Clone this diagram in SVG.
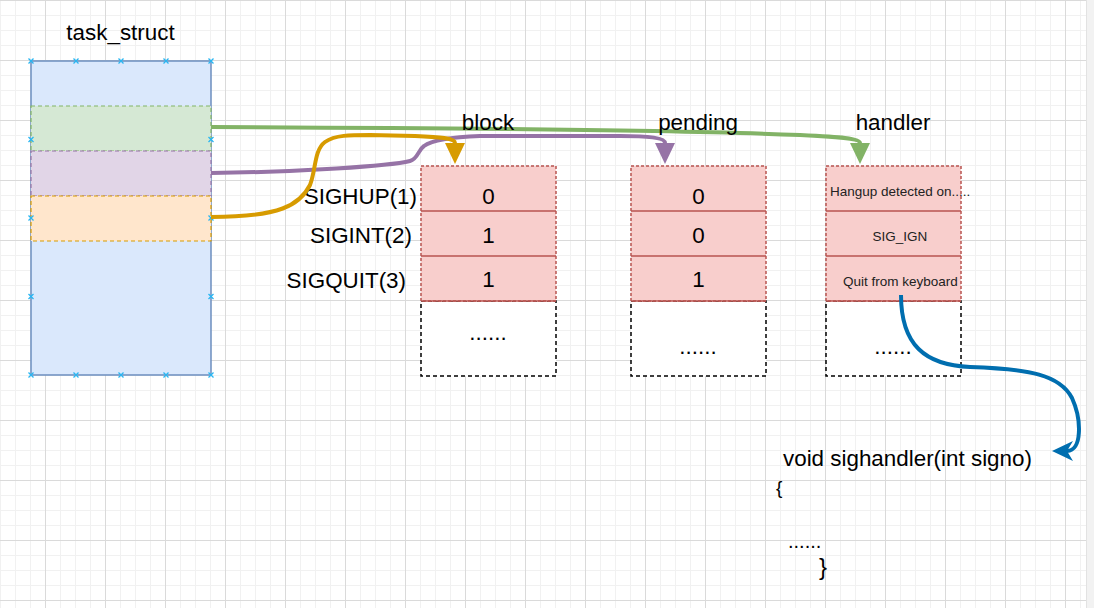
<svg xmlns="http://www.w3.org/2000/svg" xmlns:xlink="http://www.w3.org/1999/xlink" width="1094" height="608" viewBox="0 0 1094 608">
<style>
text{font-family:"Liberation Sans",Arial,sans-serif;fill:#000}
.big{font-size:22.4px}
.mid{text-anchor:middle}
.end{text-anchor:end}
.small{font-size:13.5px;fill:#222}
.cell{fill:#f8cecc;stroke:#b85450;stroke-width:1.5;stroke-dasharray:3 2}
.div{stroke:#b85450;stroke-width:1.5}
.more{fill:#fff;stroke:#000;stroke-width:1.5;stroke-dasharray:4 3}
.conn{fill:none;stroke-width:4}
.xm{fill:none;stroke:#29b6f2;stroke-width:1.3}
</style>
<defs>
<pattern id="grid" x="45" y="0" width="60" height="60" patternUnits="userSpaceOnUse">
<path d="M15.5,0V60M30.5,0V60M45.5,0V60M0,15.5H60M0,30.5H60M0,45.5H60" stroke="#f1f1f1" stroke-width="1"/>
<path d="M0.5,0V60M0,0.5H60" stroke="#dadada" stroke-width="1"/>
</pattern>
<marker id="aGreen" markerUnits="userSpaceOnUse" markerWidth="21" markerHeight="20" viewBox="0 0 21 20" refX="0" refY="10" orient="auto"><path d="M0,0L21,10L0,20Z" fill="#82b366"/></marker>
<marker id="aPurple" markerUnits="userSpaceOnUse" markerWidth="21" markerHeight="20" viewBox="0 0 21 20" refX="0" refY="10" orient="auto"><path d="M0,0L21,10L0,20Z" fill="#9673a6"/></marker>
<marker id="aOrange" markerUnits="userSpaceOnUse" markerWidth="21" markerHeight="20" viewBox="0 0 21 20" refX="0" refY="10" orient="auto"><path d="M0,0L21,10L0,20Z" fill="#d79b00"/></marker>
<marker id="aBlue" markerUnits="userSpaceOnUse" markerWidth="22" markerHeight="22" viewBox="0 0 22 22" refX="6" refY="11" orient="auto"><path d="M21,11L0,1L6,11L0,21Z" fill="#006eaf"/></marker>
<path id="xmk" d="M-2.5,-2.5L2.5,2.5M-2.5,2.5L2.5,-2.5"/>
</defs>
<rect x="0" y="0" width="1094" height="608" fill="#fff"/>
<rect x="0" y="0" width="1086" height="608" fill="url(#grid)"/>
<rect x="1086" y="0" width="8" height="608" fill="#f2f2f2"/>
<line x1="1086.5" y1="0" x2="1086.5" y2="608" stroke="#e2e2e2"/>

<g id="task_struct">
<text class="big mid" x="120.5" y="40">task_struct</text>
<rect x="31" y="61" width="180" height="314" fill="#dae8fc" stroke="#6c8ebf" stroke-width="1.5"/>
<g id="field_block_ptr"><rect x="31" y="106" width="180" height="45" fill="#d5e8d4" stroke="#82b366" stroke-width="1.2" stroke-dasharray="4 3"/></g>
<g id="field_pending_ptr"><rect x="31" y="151" width="180" height="45" fill="#e1d5e7" stroke="#9673a6" stroke-width="1.2" stroke-dasharray="4 3"/></g>
<g id="field_handler_ptr"><rect x="31" y="196" width="180" height="45" fill="#ffe6cc" stroke="#d79b00" stroke-width="1.2" stroke-dasharray="4 3"/></g>
<g class="xm">
<use xlink:href="#xmk" x="31" y="61"/><use xlink:href="#xmk" x="76" y="61"/><use xlink:href="#xmk" x="121" y="61"/><use xlink:href="#xmk" x="166" y="61"/><use xlink:href="#xmk" x="211" y="61"/>
<use xlink:href="#xmk" x="31" y="375"/><use xlink:href="#xmk" x="76" y="375"/><use xlink:href="#xmk" x="121" y="375"/><use xlink:href="#xmk" x="166" y="375"/><use xlink:href="#xmk" x="211" y="375"/>
<use xlink:href="#xmk" x="31" y="139.5"/><use xlink:href="#xmk" x="31" y="218"/><use xlink:href="#xmk" x="31" y="296.5"/>
<use xlink:href="#xmk" x="211" y="139.5"/><use xlink:href="#xmk" x="211" y="218"/><use xlink:href="#xmk" x="211" y="296.5"/>
</g>
</g>

<g id="signal_labels">
<text class="big end" x="417" y="204">SIGHUP(1)</text>
<text class="big end" x="412" y="243">SIGINT(2)</text>
<text class="big end" x="406" y="288">SIGQUIT(3)</text>
</g>

<g id="block">
<rect class="more" x="421" y="301" width="135" height="75"/>
<text class="big mid" x="488" y="340">......</text>
<rect class="cell" x="421" y="166" width="135" height="135"/>
<path class="div" d="M421,211H556M421,256H556M421,301H556"/>
<text class="big mid" x="488.5" y="204">0</text>
<text class="big mid" x="488.5" y="243">1</text>
<text class="big mid" x="488.5" y="287">1</text>
</g>

<g id="pending">
<rect class="more" x="631" y="301" width="135" height="75"/>
<text class="big mid" x="698" y="354">......</text>
<rect class="cell" x="631" y="166" width="135" height="135"/>
<path class="div" d="M631,211H766M631,256H766M631,301H766"/>
<text class="big mid" x="698.5" y="204">0</text>
<text class="big mid" x="698.5" y="243">0</text>
<text class="big mid" x="698.5" y="287">1</text>
</g>

<g id="handler">
<rect class="more" x="826" y="301" width="135" height="75"/>
<text class="big mid" x="893" y="354">......</text>
<rect class="cell" x="826" y="166" width="135" height="135"/>
<path class="div" d="M826,211H961M826,256H961M826,301H961"/>
<text class="small" x="830" y="196">Hangup detected on.....</text>
<text class="small mid" x="900" y="241">SIG_IGN</text>
<text class="small" x="843" y="286">Quit from keyboard</text>
</g>

<g id="sighandler_code">
<text class="big" x="783" y="466">void sighandler(int signo)</text>
<text x="776" y="494" style="font-size:19px">{</text>
<text x="788" y="548" style="font-size:20px">......</text>
<text x="819" y="575" style="font-size:24px">}</text>
</g>

<g id="connectors">
<path class="conn" stroke="#82b366" d="M211,127 C450,128 700,131 800,135 C840,137 860,138 860,143" marker-end="url(#aGreen)"/>
<path class="conn" stroke="#9673a6" d="M211,173 C300,172 390,166 410,161 C418,159 418,150 424,146 C432,140 450,137 480,136 L620,136 C650,136 665,138 665,143" marker-end="url(#aPurple)"/>
<path class="conn" stroke="#d79b00" d="M211,217 C280,217 300,205 310,185 C316,170 314,150 325,142 C335,135 350,135 370,135 L415,136 C440,137 455,138 455,143" marker-end="url(#aOrange)"/>
<path class="conn" stroke="#006eaf" d="M901,295 C901,345 925,365 970,367 C1030,369 1060,375 1072,398 C1082,420 1082,451 1067,451" marker-end="url(#aBlue)"/>
</g>

<g id="table_titles">
<text class="big mid" x="488" y="130">block</text>
<text class="big mid" x="698" y="130">pending</text>
<text class="big mid" x="893" y="130">handler</text>
</g>
</svg>
